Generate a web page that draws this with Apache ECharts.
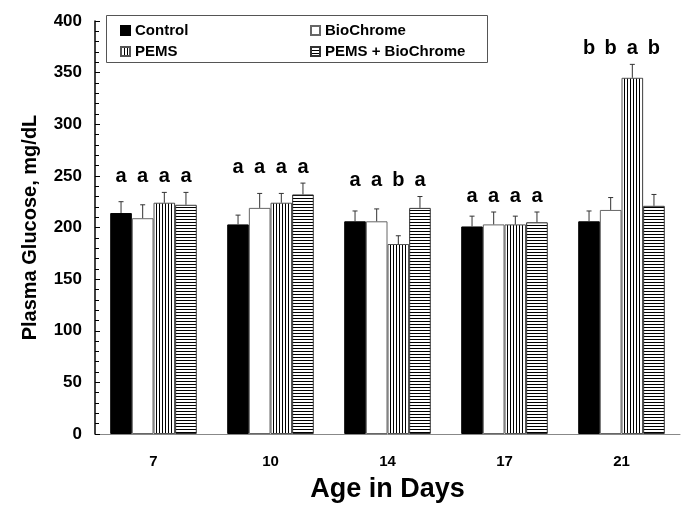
<!DOCTYPE html>
<html>
<head>
<meta charset="utf-8">
<script src="https://cdn.jsdelivr.net/npm/echarts@6/dist/echarts.min.js"></script>
<style>
html,body{margin:0;padding:0;background:#fff;}
#chart{width:689px;height:508px;}
</style>
</head>
<body>
<div id="chart"></div>
<script>
// ---- data ----
const categories = ['7', '10', '14', '17', '21'];
const seriesNames = ['Control', 'BioChrome', 'PEMS', 'PEMS + BioChrome'];
const control      = [214, 203, 206, 201, 206];
const bioChrome    = [209, 219, 206, 203, 217];
const pems         = [224, 224, 184, 203, 345];
const pemsBio      = [222, 232, 219, 205, 221];
const controlErr   = [11, 9, 10, 10, 10];
const bioChromeErr = [13, 14, 12, 12, 12];
const pemsErr      = [10, 9, 8, 8, 13];
const pemsBioErr   = [12, 11, 11, 10, 11];
const controlLetters   = ['a', 'a', 'a', 'a', 'b'];
const bioChromeLetters = ['a', 'a', 'a', 'a', 'b'];
const pemsLetters      = ['a', 'a', 'b', 'a', 'a'];
const pemsBioLetters   = ['a', 'a', 'a', 'a', 'b'];
const yTicks = [0, 50, 100, 150, 200, 250, 300, 350, 400];
const yMinorStep = 10;

const values = [control, bioChrome, pems, pemsBio];
const errors = [controlErr, bioChromeErr, pemsErr, pemsBioErr];
const letters = [controlLetters, bioChromeLetters, pemsLetters, pemsBioLetters];

// ---- patterns ----
function stripePattern(vertical) {
  const c = document.createElement('canvas');
  c.width = 3; c.height = 3;
  const ctx = c.getContext('2d');
  ctx.fillStyle = '#ffffff';
  ctx.fillRect(0, 0, 3, 3);
  ctx.fillStyle = '#000000';
  if (vertical) ctx.fillRect(0, 0, 1, 3); else ctx.fillRect(0, 0, 3, 1);
  return { image: c, repeat: 'repeat' };
}
const styles = [
  { color: '#000000', borderColor: '#000000', borderWidth: 1 },
  { color: '#ffffff', borderColor: '#666666', borderWidth: 1 },
  { color: stripePattern(true), borderColor: '#555555', borderWidth: 1 },
  { color: stripePattern(false), borderColor: '#333333', borderWidth: 1 }
];

const CAT_GAP = 0.26;
const FONT = "'Liberation Sans', Arial, sans-serif";

const barSeries = seriesNames.map((name, s) => ({
  name: name,
  type: 'bar',
  data: values[s],
  barGap: '0%',
  barCategoryGap: (CAT_GAP * 100) + '%',
  itemStyle: styles[s],
  emphasis: { disabled: true },
  z: 2
}));

const errData = [];
for (let s = 0; s < 4; s++) {
  for (let i = 0; i < categories.length; i++) {
    errData.push([i, values[s][i], s, errors[s][i]]);
  }
}
const groupMax = categories.map((_, i) => Math.max(...values.map((v, s) => v[i] + errors[s][i])));

const errSeries = {
  type: 'custom',
  data: errData,
  encode: { x: 0, y: 1 },
  z: 5,
  silent: true,
  renderItem: function (params, api) {
    const i = api.value(0), v = api.value(1), s = api.value(2), e = api.value(3);
    const band = api.size([1, 0])[0];
    const groupW = band * (1 - CAT_GAP);
    const bw = groupW / 4;
    const cx = api.coord([i, 0])[0];
    const x = cx - groupW / 2 + bw * (s + 0.5);
    const yTop = api.coord([i, v])[1];
    const yErr = api.coord([i, v + e])[1];
    const yLet = api.coord([i, groupMax[i]])[1] - 16;
    const lineStyle = { stroke: '#333333', lineWidth: 1 };
    return {
      type: 'group',
      children: [
        { type: 'line', shape: { x1: x, y1: yTop, x2: x, y2: yErr }, style: lineStyle },
        { type: 'line', shape: { x1: x - 2.5, y1: yErr, x2: x + 2.5, y2: yErr }, style: lineStyle },
        { type: 'text', x: x, y: yLet, style: {
            text: letters[s][i], fill: '#000', font: 'bold 20px ' + FONT,
            align: 'center', verticalAlign: 'middle' } }
      ]
    };
  }
};

const legendCommon = {
  orient: 'vertical',
  top: 23,
  icon: 'rect',
  itemWidth: 9,
  itemHeight: 9,
  itemGap: 6,
  padding: 0,
  selectedMode: false,
  textStyle: { fontFamily: FONT, fontWeight: 'bold', fontSize: 15, color: '#000', lineHeight: 15 }
};

const chart = echarts.init(document.getElementById('chart'), null, { renderer: 'canvas' });
chart.setOption({
  animation: false,
  backgroundColor: '#ffffff',
  grid: { left: 95, right: 9, top: 21, bottom: 74 },
  legend: [
    Object.assign({}, legendCommon, { left: 120, data: ['Control', 'PEMS'] }),
    Object.assign({}, legendCommon, { left: 310, data: ['BioChrome', 'PEMS + BioChrome'] })
  ],
  graphic: [{
    type: 'rect', left: 104, top: 13,
    shape: { width: 381, height: 47 },
    style: { fill: 'none', stroke: '#555555', lineWidth: 1 },
    z: 10
  }],
  xAxis: {
    type: 'category',
    data: categories,
    name: 'Age in Days',
    nameLocation: 'middle',
    nameGap: 42,
    nameTextStyle: { fontFamily: FONT, fontWeight: 'bold', fontSize: 27, color: '#000' },
    axisLine: { lineStyle: { color: '#888888', width: 1 } },
    axisTick: { inside: true, length: 4, lineStyle: { color: '#888888' } },
    axisLabel: { fontFamily: FONT, fontWeight: 'bold', fontSize: 15, color: '#000', margin: 20 }
  },
  yAxis: [{
    type: 'value',
    min: yTicks[0],
    max: yTicks[yTicks.length - 1],
    interval: yTicks[1] - yTicks[0],
    name: 'Plasma Glucose, mg/dL',
    nameLocation: 'middle',
    nameGap: 55,
    nameTextStyle: { fontFamily: FONT, fontWeight: 'bold', fontSize: 20, color: '#000' },
    axisLine: { show: true, lineStyle: { color: '#000', width: 1.5 } },
    axisTick: { show: true, inside: true, length: 5, lineStyle: { color: '#000' } },
    splitLine: { show: false },
    axisLabel: { fontFamily: FONT, fontWeight: 'bold', fontSize: 17, color: '#000', margin: 13 }
  }, {
    type: 'value',
    position: 'left',
    offset: 0,
    min: yTicks[0],
    max: yTicks[yTicks.length - 1],
    interval: yMinorStep,
    axisLine: { show: false },
    axisTick: { show: true, inside: true, length: 4, lineStyle: { color: '#000' } },
    splitLine: { show: false },
    axisLabel: { show: false }
  }],
  series: barSeries.concat([errSeries])
});
</script>
</body>
</html>
